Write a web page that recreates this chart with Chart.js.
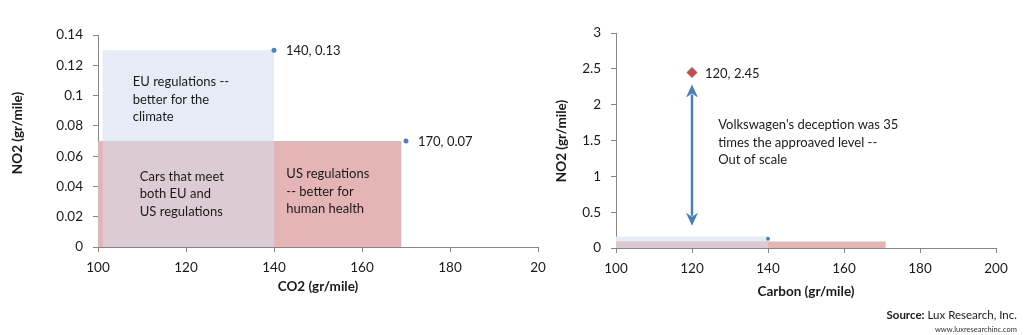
<!DOCTYPE html>
<html lang="en">
<head>
<meta charset="utf-8" />
<title>NO2 vs CO2 - EU and US regulations</title>
<script src="https://cdn.jsdelivr.net/npm/chart.js"></script>
<style>
  body { margin: 0; background: #fff; font-family: Lato, sans-serif; }
  .wrap { position: relative; width: 1024px; height: 335px; overflow: hidden; }
  #leftChart { position: absolute; left: 0; top: 0; }
  #rightChart { position: absolute; left: 530px; top: 0; }
  .source { position: absolute; right: 7px; top: 308px; font-size: 11.5px; color: #1a1a1a; }
  .site { position: absolute; right: 7px; top: 325px; font-size: 7.5px; color: #333; }
</style>
</head>
<body>
<div class="wrap">
  <canvas id="leftChart" width="560" height="300"></canvas>
  <canvas id="rightChart" width="494" height="300"></canvas>
  <div class="source"><b>Source:</b> Lux Research, Inc.</div>
  <div class="site">www.luxresearchinc.com</div>
</div>

<script>
// left chart: CO2 vs NO2 limits
const co2TickLabels = ['100', '120', '140', '160', '180', '20'];
const no2TickLabels = ['0', '0.02', '0.04', '0.06', '0.08', '0.1', '0.12', '0.14'];
const euLimit = [[101, 0.13], [140, 0.13]];
const usLimit = [[100, 0.07], [169, 0.07]];
const bothLimit = [[101, 0.07], [140, 0.07]];
const limitPoints = [[140, 0.13], [170, 0.07]];

// right chart: same limits against the VW reading
const carbonTickLabels = ['100', '120', '140', '160', '180', '200'];
const no2WideTickLabels = ['0', '0.5', '1', '1.5', '2', '2.5', '3'];
const euLimitWide = [[100, 0.16], [140, 0.16]];
const usLimitWide = [[100, 0.09], [171, 0.09]];
const bothLimitWide = [[100, 0.09], [140, 0.09]];
const euPointWide = [[140, 0.13]];
const vwPoint = [[120, 2.45]];
const vwArrow = [120, 0.31, 2.28]; // x, bottom, top

const BLUE = '#e6ecf5', PINK = '#e5b5b5', MIX = '#ddcbd3';
const TEXT = '#1a1a1a', AXIS = '#868686';

Chart.defaults.font.family = 'Lato, sans-serif';
Chart.defaults.font.size = 13.5;
Chart.defaults.color = TEXT;

const toXY = arr => arr.map(([x, y]) => ({ x, y }));

function region(data, color, order) {
    return {
        data: toXY(data), showLine: true, fill: 'origin', backgroundColor: color,
        borderColor: 'rgba(0,0,0,0)', borderWidth: 0, pointRadius: 0, order: order
    };
}

function axis(min, max, step, labels, fitKey, fitSize, pad) {
    return {
        type: 'linear', min: min, max: max,
        ticks: { stepSize: step, padding: pad, callback: (v, i) => labels[i] },
        grid: { drawOnChartArea: false, tickLength: 5, color: AXIS },
        border: { color: AXIS, width: 1 },
        afterFit: s => { s[fitKey] = fitSize; }
    };
}

// point labels, text boxes, axis titles and the arrow
const notesPlugin = {
    id: 'notes',
    afterDatasetsDraw(chart, args, opts) {
        const { ctx, chartArea, scales: { x, y } } = chart;
        ctx.save();
        ctx.fillStyle = TEXT;
        ctx.textBaseline = 'middle';
        ctx.textAlign = 'left';
        ctx.font = '13px Lato';
        chart.data.datasets.forEach((ds, i) => {
            if (!ds.pointLabels) return;
            chart.getDatasetMeta(i).data.forEach((el, j) => {
                const p = ds.data[j];
                ctx.fillText(p.x + ', ' + p.y, el.x + ds.labelGap, el.y + 1);
            });
        });
        (opts.blocks || []).forEach(b => {
            b.lines.forEach((line, k) => {
                ctx.fillText(line, x.getPixelForValue(b.x), y.getPixelForValue(b.y) + k * 17.5);
            });
        });

        if (opts.arrow) {
            const [ax, y0, y1] = opts.arrow;
            const px = x.getPixelForValue(ax);
            const pb = y.getPixelForValue(y0), pt = y.getPixelForValue(y1);
            const head = 13, half = 6;
            ctx.strokeStyle = '#4a7ebb';
            ctx.fillStyle = '#4a7ebb';
            ctx.lineWidth = 2.5;
            ctx.beginPath();
            ctx.moveTo(px, pt + head - 3);
            ctx.lineTo(px, pb - head + 3);
            ctx.stroke();
            [[pt, 1], [pb, -1]].forEach(([tip, d]) => {
                ctx.beginPath();
                ctx.moveTo(px, tip);
                ctx.lineTo(px - half, tip + d * head);
                ctx.lineTo(px, tip + d * (head - 4));
                ctx.lineTo(px + half, tip + d * head);
                ctx.closePath();
                ctx.fill();
            });
        }

        ctx.fillStyle = TEXT;
        ctx.font = 'bold 13.5px Lato';
        ctx.textAlign = 'center';
        ctx.fillText(opts.xTitle, (chartArea.left + chartArea.right) / 2, opts.xTitleY);
        ctx.translate(opts.yTitleX, opts.yTitleY);
        ctx.rotate(-Math.PI / 2);
        ctx.fillText(opts.yTitle, 0, 0);
        ctx.restore();
    }
};

new Chart(document.getElementById('leftChart'), {
    type: 'scatter',
    data: {
        datasets: [
            { data: toXY(limitPoints), pointRadius: 2.5, backgroundColor: '#4f81bd', borderWidth: 0,
              pointLabels: true, labelGap: 12, order: 0 },
            region(bothLimit, MIX, 1),
            region(usLimit, PINK, 2),
            region(euLimit, BLUE, 3)
        ]
    },
    options: {
        responsive: false,
        animation: false,
        layout: { padding: { top: 35, right: 22, left: 0, bottom: 0 } },
        scales: {
            x: axis(100, 200, 20, co2TickLabels, 'height', 53, 8),
            y: axis(0, 0.14, 0.02, no2TickLabels, 'width', 98, 10)
        },
        plugins: {
            legend: { display: false },
            tooltip: { enabled: false },
            notes: {
                blocks: [
                    { x: 107.9, y: 0.1088, lines: ['EU regulations --', 'better for the', 'climate'] },
                    { x: 109.5, y: 0.0464, lines: ['Cars that meet', 'both EU and', 'US regulations'] },
                    { x: 142.8, y: 0.0482, lines: ['US regulations', '-- better for', 'human health'] }
                ],
                xTitle: 'CO2 (gr/mile)', xTitleY: 287,
                yTitle: 'NO2 (gr/mile)', yTitleX: 18, yTitleY: 133
            }
        }
    },
    plugins: [notesPlugin]
});

new Chart(document.getElementById('rightChart'), {
    type: 'scatter',
    data: {
        datasets: [
            { data: toXY(vwPoint), pointStyle: 'rectRot', pointRadius: 5.5, backgroundColor: '#c0504d',
              borderWidth: 0, pointLabels: true, labelGap: 13, order: 0 },
            { data: toXY(euPointWide), pointRadius: 2, backgroundColor: '#4f81bd', borderWidth: 0, order: 0 },
            region(bothLimitWide, MIX, 1),
            region(usLimitWide, PINK, 2),
            region(euLimitWide, BLUE, 3)
        ]
    },
    options: {
        responsive: false,
        animation: false,
        layout: { padding: { top: 33, right: 28, left: 0, bottom: 0 } },
        scales: {
            x: axis(100, 200, 20, carbonTickLabels, 'height', 52, 8),
            y: axis(0, 3, 0.5, no2WideTickLabels, 'width', 86, 10)
        },
        plugins: {
            legend: { display: false },
            tooltip: { enabled: false },
            notes: {
                blocks: [
                    { x: 126.9, y: 1.716, lines: ["Volkswagen's deception was 35", 'times the approaved level --', 'Out of scale'] }
                ],
                arrow: vwArrow,
                xTitle: 'Carbon (gr/mile)', xTitleY: 292,
                yTitle: 'NO2 (gr/mile)', yTitleX: 32, yTitleY: 141
            }
        }
    },
    plugins: [notesPlugin]
});
</script>
</body>
</html>
